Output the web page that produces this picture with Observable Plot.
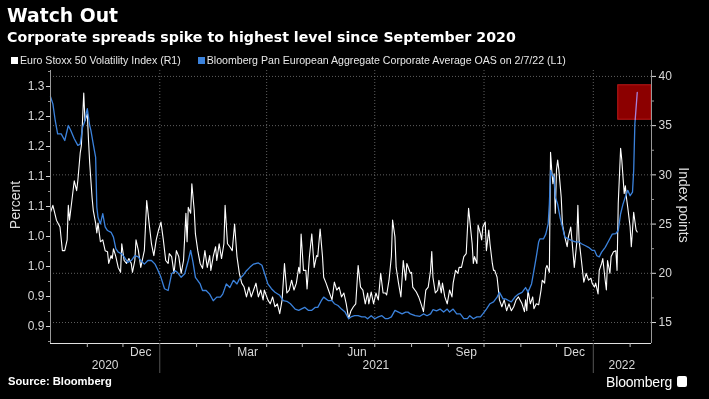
<!DOCTYPE html>
<html><head><meta charset="utf-8">
<script src="https://cdn.jsdelivr.net/npm/d3@7"></script>
<script src="https://cdn.jsdelivr.net/npm/@observablehq/plot@0.6"></script>
<style>
html,body{margin:0;padding:0;background:#000;}
#wrap{position:relative;width:709px;height:399px;background:#000;overflow:hidden;color:#fff;font-family:"Liberation Sans",Arial,sans-serif;}
#title{position:absolute;left:7px;top:5px;font:bold 18.8px "DejaVu Sans";line-height:22px;white-space:nowrap;}
#subtitle{position:absolute;left:7px;top:28px;font:bold 14.2px "DejaVu Sans";line-height:18px;white-space:nowrap;}
#legend{position:absolute;left:11px;top:54px;font:10.6px "Liberation Sans";color:#e8e8e8;white-space:nowrap;line-height:12px;}
#legend .sw{display:inline-block;width:7px;height:7px;margin-right:2px;vertical-align:0px;}
#legend .item{margin-right:17px;}
#chart{position:absolute;left:0;top:60px;}
#ylab{position:absolute;left:15px;top:205px;transform:translate(-50%,-50%) rotate(-90deg);font:14px "Liberation Sans";color:#ddd;white-space:nowrap;}
#y2lab{position:absolute;left:684px;top:205px;transform:translate(-50%,-50%) rotate(90deg);font:14px "Liberation Sans";color:#ddd;white-space:nowrap;}
#source{position:absolute;left:8px;top:375px;font:bold 11.2px "Liberation Sans";line-height:13px;color:#fff;}
#logo{position:absolute;right:37px;top:375px;font:14px "Liberation Sans";line-height:14px;color:#fff;letter-spacing:-0.2px;}
#icon{position:absolute;left:677px;top:376px;width:10px;height:11px;background:#fff;border-radius:2px;}
</style></head>
<body><div id="wrap">
<div id="title">Watch Out</div>
<div id="subtitle">Corporate spreads spike to highest level since September 2020</div>
<div id="legend"></div>
<div id="chart"></div>
<div id="ylab">Percent</div>
<div id="y2lab">Index points</div>
<div id="source">Source: Bloomberg</div>
<div id="logo">Bloomberg</div>
<div id="icon"></div>
</div>
<script>
// ---- series names ----
const seriesNames = ["Euro Stoxx 50 Volatility Index (R1)", "Bloomberg Pan European Aggregate Corporate Average OAS on 2/7/22 (L1)"];
const seriesColors = ["#ffffff", "#3b82dc"];

// ---- Euro Stoxx 50 Volatility Index (right axis, index points) ----
const vstoxx = [["2020-10-01",26.2],["2020-10-03",26.9],["2020-10-06",25.4],["2020-10-09",24.7],["2020-10-11",22.3],["2020-10-13",22.3],["2020-10-15",23.4],["2020-10-16",26.9],["2020-10-17",25.4],["2020-10-19",27.4],["2020-10-21",29.4],["2020-10-23",28.4],["2020-10-24",29.4],["2020-10-26",32.2],["2020-10-27",33.0],["2020-10-29",38.3],["2020-10-30",35.5],["2020-11-01",36.2],["2020-11-02",33.5],["2020-11-03",31.2],["2020-11-05",27.7],["2020-11-06",26.4],["2020-11-08",25.1],["2020-11-09",24.1],["2020-11-10",25.1],["2020-11-12",23.2],["2020-11-14",23.4],["2020-11-16",22.3],["2020-11-18",22.2],["2020-11-19",21.0],["2020-11-21",21.8],["2020-11-22",21.5],["2020-11-23",22.5],["2020-11-25",21.7],["2020-11-27",20.6],["2020-11-29",20.1],["2020-11-30",23.0],["2020-12-02",21.3],["2020-12-04",21.0],["2020-12-06",21.5],["2020-12-08",21.0],["2020-12-09",20.1],["2020-12-11",21.3],["2020-12-12",23.4],["2020-12-14",22.3],["2020-12-16",20.6],["2020-12-19",22.3],["2020-12-21",27.4],["2020-12-23",25.1],["2020-12-25",23.0],["2020-12-27",21.8],["2020-12-29",23.4],["2020-12-31",24.4],["2021-01-02",25.2],["2021-01-04",23.4],["2021-01-06",21.3],["2021-01-08",21.0],["2021-01-09",22.0],["2021-01-11",21.7],["2021-01-13",20.0],["2021-01-15",22.3],["2021-01-17",21.7],["2021-01-19",20.0],["2021-01-21",21.3],["2021-01-23",26.1],["2021-01-24",23.2],["2021-01-25",26.7],["2021-01-27",26.1],["2021-01-28",29.1],["2021-01-30",26.4],["2021-01-31",24.0],["2021-02-02",22.3],["2021-02-04",21.0],["2021-02-06",20.5],["2021-02-08",22.3],["2021-02-10",20.6],["2021-02-12",21.8],["2021-02-13",20.3],["2021-02-15",21.7],["2021-02-17",22.7],["2021-02-18",21.3],["2021-02-20",23.0],["2021-02-22",21.5],["2021-02-24",23.0],["2021-02-25",26.9],["2021-02-27",23.0],["2021-03-01",22.7],["2021-03-03",22.3],["2021-03-05",25.0],["2021-03-07",21.7],["2021-03-09",20.0],["2021-03-11",19.0],["2021-03-13",18.6],["2021-03-15",17.6],["2021-03-17",18.6],["2021-03-19",17.6],["2021-03-21",18.3],["2021-03-23",19.0],["2021-03-25",17.6],["2021-03-27",18.3],["2021-03-29",17.3],["2021-03-30",18.3],["2021-04-02",17.3],["2021-04-04",16.9],["2021-04-06",17.6],["2021-04-08",16.6],["2021-04-10",16.9],["2021-04-12",15.9],["2021-04-14",17.3],["2021-04-16",21.0],["2021-04-18",18.0],["2021-04-20",18.3],["2021-04-22",19.3],["2021-04-24",18.3],["2021-04-26",19.0],["2021-04-28",20.6],["2021-04-29",20.0],["2021-04-30",24.0],["2021-05-02",20.3],["2021-05-04",20.3],["2021-05-05",18.4],["2021-05-07",21.7],["2021-05-09",24.0],["2021-05-11",20.6],["2021-05-13",21.8],["2021-05-14",21.7],["2021-05-16",24.5],["2021-05-18",21.7],["2021-05-19",19.6],["2021-05-21",19.0],["2021-05-23",18.3],["2021-05-26",17.3],["2021-05-28",19.1],["2021-05-30",18.3],["2021-06-01",18.6],["2021-06-03",17.6],["2021-06-05",18.0],["2021-06-07",16.9],["2021-06-09",15.4],["2021-06-11",16.2],["2021-06-13",16.6],["2021-06-15",16.9],["2021-06-17",20.8],["2021-06-19",18.6],["2021-06-21",18.3],["2021-06-23",16.9],["2021-06-25",18.0],["2021-06-26",16.9],["2021-06-28",18.1],["2021-06-30",16.9],["2021-07-02",18.0],["2021-07-04",17.3],["2021-07-06",20.0],["2021-07-08",18.0],["2021-07-10",18.0],["2021-07-11",17.8],["2021-07-13",19.3],["2021-07-15",21.7],["2021-07-16",25.4],["2021-07-18",23.7],["2021-07-19",20.6],["2021-07-21",19.0],["2021-07-23",17.6],["2021-07-25",21.3],["2021-07-27",19.3],["2021-07-28",21.0],["2021-07-31",20.0],["2021-08-01",20.1],["2021-08-02",18.6],["2021-08-05",18.1],["2021-08-07",17.6],["2021-08-09",16.9],["2021-08-11",16.1],["2021-08-13",18.3],["2021-08-15",18.6],["2021-08-17",20.3],["2021-08-18",22.2],["2021-08-19",19.6],["2021-08-21",18.0],["2021-08-23",18.3],["2021-08-24",19.3],["2021-08-26",18.0],["2021-08-27",19.0],["2021-08-29",17.6],["2021-08-31",16.9],["2021-09-02",18.3],["2021-09-04",17.6],["2021-09-05",19.0],["2021-09-07",20.3],["2021-09-09",20.0],["2021-09-10",20.6],["2021-09-12",20.6],["2021-09-14",21.7],["2021-09-16",22.0],["2021-09-17",24.4],["2021-09-18",26.6],["2021-09-19",25.4],["2021-09-21",23.0],["2021-09-22",21.0],["2021-09-23",21.7],["2021-09-25",21.0],["2021-09-26",24.9],["2021-09-28",24.0],["2021-09-29",23.4],["2021-09-30",24.7],["2021-10-02",25.2],["2021-10-03",22.3],["2021-10-05",24.4],["2021-10-06",23.0],["2021-10-08",21.0],["2021-10-09",20.3],["2021-10-10",20.3],["2021-10-12",19.6],["2021-10-14",17.3],["2021-10-16",16.6],["2021-10-18",17.3],["2021-10-20",16.2],["2021-10-22",16.9],["2021-10-24",16.2],["2021-10-26",16.6],["2021-10-28",17.3],["2021-10-30",17.6],["2021-11-02",16.9],["2021-11-04",16.1],["2021-11-05",17.3],["2021-11-06",16.2],["2021-11-07",18.3],["2021-11-09",16.9],["2021-11-11",17.6],["2021-11-12",16.4],["2021-11-14",16.9],["2021-11-16",16.8],["2021-11-18",18.3],["2021-11-19",19.3],["2021-11-21",19.0],["2021-11-22",20.5],["2021-11-23",20.8],["2021-11-25",20.1],["2021-11-26",32.3],["2021-11-27",30.5],["2021-11-28",29.1],["2021-11-29",30.1],["2021-11-30",26.1],["2021-12-01",30.5],["2021-12-02",31.5],["2021-12-03",30.5],["2021-12-05",27.7],["2021-12-06",25.0],["2021-12-08",23.7],["2021-12-10",22.7],["2021-12-11",23.7],["2021-12-13",24.7],["2021-12-14",23.4],["2021-12-16",20.6],["2021-12-18",23.0],["2021-12-19",26.9],["2021-12-20",23.4],["2021-12-22",21.3],["2021-12-24",19.1],["2021-12-26",20.0],["2021-12-28",19.3],["2021-12-30",19.5],["2021-12-31",19.0],["2022-01-02",18.6],["2022-01-03",19.0],["2022-01-05",17.9],["2022-01-06",20.3],["2022-01-08",21.0],["2022-01-09",21.5],["2022-01-11",19.3],["2022-01-12",18.3],["2022-01-13",21.3],["2022-01-15",20.0],["2022-01-16",21.7],["2022-01-18",22.2],["2022-01-20",22.3],["2022-01-21",20.3],["2022-01-22",27.1],["2022-01-24",32.7],["2022-01-25",31.5],["2022-01-27",28.1],["2022-01-28",28.9],["2022-01-29",27.6],["2022-01-30",26.7],["2022-02-01",24.7],["2022-02-02",22.7],["2022-02-03",24.4],["2022-02-04",26.2],["2022-02-06",24.4],["2022-02-07",24.2]];

// ---- Bloomberg Pan European Aggregate Corporate OAS (left axis, percent) ----
const oas = [["2020-10-01",1.283],["2020-10-03",1.271],["2020-10-05",1.243],["2020-10-07",1.221],["2020-10-10",1.221],["2020-10-13",1.210],["2020-10-16",1.235],["2020-10-18",1.227],["2020-10-21",1.213],["2020-10-24",1.202],["2020-10-26",1.204],["2020-10-28",1.232],["2020-10-30",1.243],["2020-10-31",1.255],["2020-11-01",1.263],["2020-11-03",1.235],["2020-11-04",1.227],["2020-11-06",1.204],["2020-11-08",1.182],["2020-11-09",1.099],["2020-11-10",1.082],["2020-11-12",1.071],["2020-11-14",1.088],["2020-11-16",1.066],["2020-11-18",1.060],["2020-11-21",1.057],["2020-11-23",1.049],["2020-11-25",1.030],["2020-11-27",1.024],["2020-11-30",1.021],["2020-12-02",1.016],["2020-12-05",1.007],["2020-12-08",1.010],["2020-12-11",1.018],["2020-12-14",1.016],["2020-12-16",1.010],["2020-12-19",1.004],["2020-12-22",1.010],["2020-12-25",1.010],["2020-12-28",1.004],["2020-12-30",0.996],["2021-01-02",0.982],["2021-01-05",0.963],["2021-01-08",0.960],["2021-01-11",0.988],["2021-01-14",0.993],["2021-01-16",0.990],["2021-01-19",0.982],["2021-01-22",0.988],["2021-01-25",1.010],["2021-01-27",1.027],["2021-01-29",1.007],["2021-01-31",0.982],["2021-02-04",0.971],["2021-02-06",0.960],["2021-02-09",0.960],["2021-02-12",0.954],["2021-02-15",0.943],["2021-02-18",0.949],["2021-02-21",0.949],["2021-02-23",0.954],["2021-02-26",0.971],["2021-03-01",0.965],["2021-03-04",0.977],["2021-03-07",0.971],["2021-03-09",0.979],["2021-03-12",0.985],["2021-03-15",0.993],["2021-03-18",0.999],["2021-03-21",1.004],["2021-03-25",1.006],["2021-03-28",1.002],["2021-03-30",0.990],["2021-04-02",0.971],["2021-04-05",0.963],["2021-04-08",0.957],["2021-04-12",0.952],["2021-04-15",0.943],["2021-04-18",0.942],["2021-04-21",0.938],["2021-04-25",0.929],["2021-04-28",0.927],["2021-04-30",0.929],["2021-05-03",0.932],["2021-05-06",0.927],["2021-05-09",0.927],["2021-05-12",0.932],["2021-05-14",0.932],["2021-05-17",0.943],["2021-05-19",0.949],["2021-05-23",0.943],["2021-05-26",0.943],["2021-05-28",0.938],["2021-05-31",0.935],["2021-06-03",0.929],["2021-06-06",0.924],["2021-06-09",0.913],["2021-06-11",0.916],["2021-06-14",0.918],["2021-06-17",0.918],["2021-06-20",0.916],["2021-06-23",0.916],["2021-06-25",0.913],["2021-06-28",0.918],["2021-07-01",0.913],["2021-07-04",0.916],["2021-07-07",0.918],["2021-07-10",0.913],["2021-07-12",0.913],["2021-07-15",0.916],["2021-07-18",0.927],["2021-07-21",0.924],["2021-07-24",0.921],["2021-07-27",0.924],["2021-07-29",0.924],["2021-07-31",0.921],["2021-08-04",0.918],["2021-08-08",0.917],["2021-08-11",0.921],["2021-08-14",0.918],["2021-08-17",0.921],["2021-08-19",0.928],["2021-08-22",0.926],["2021-08-25",0.929],["2021-08-28",0.924],["2021-08-31",0.929],["2021-09-02",0.924],["2021-09-05",0.929],["2021-09-08",0.921],["2021-09-11",0.921],["2021-09-14",0.913],["2021-09-17",0.913],["2021-09-19",0.918],["2021-09-22",0.913],["2021-09-25",0.916],["2021-09-28",0.916],["2021-09-30",0.921],["2021-10-03",0.929],["2021-10-06",0.938],["2021-10-09",0.941],["2021-10-12",0.949],["2021-10-14",0.957],["2021-10-17",0.946],["2021-10-19",0.946],["2021-10-22",0.943],["2021-10-24",0.941],["2021-10-27",0.949],["2021-10-30",0.954],["2021-11-02",0.957],["2021-11-05",0.965],["2021-11-07",0.957],["2021-11-10",0.971],["2021-11-12",0.993],["2021-11-14",1.016],["2021-11-16",1.041],["2021-11-17",1.046],["2021-11-20",1.046],["2021-11-22",1.054],["2021-11-24",1.071],["2021-11-25",1.104],["2021-11-26",1.160],["2021-11-27",1.154],["2021-11-29",1.149],["2021-11-30",1.116],["2021-12-02",1.104],["2021-12-04",1.082],["2021-12-06",1.066],["2021-12-08",1.049],["2021-12-11",1.046],["2021-12-14",1.043],["2021-12-17",1.041],["2021-12-20",1.041],["2021-12-22",1.038],["2021-12-25",1.035],["2021-12-28",1.032],["2021-12-31",1.027],["2022-01-02",1.027],["2022-01-04",1.018],["2022-01-06",1.016],["2022-01-08",1.024],["2022-01-11",1.032],["2022-01-14",1.043],["2022-01-17",1.054],["2022-01-20",1.055],["2022-01-22",1.060],["2022-01-24",1.088],["2022-01-26",1.104],["2022-01-28",1.116],["2022-01-30",1.127],["2022-02-01",1.118],["2022-02-03",1.124],["2022-02-04",1.160],["2022-02-05",1.238],["2022-02-07",1.290]];

// ---- axes ----
const xDomain = ["2020-10-01", "2022-02-19"];
const leftDomain = [0.8717, 1.3267];
const rightDomain = [12.87, 40.6];
const leftTicks = [0.90, 0.95, 1.00, 1.05, 1.10, 1.15, 1.20, 1.25, 1.30];
const leftTickLabels = ["0.9", "0.9", "1.0", "1.0", "1.1", "1.1", "1.2", "1.2", "1.3"];
const leftMinorTicks = [0.875, 0.925, 0.975, 1.025, 1.075, 1.125, 1.175, 1.225, 1.275, 1.325];
const rightTicks = [15, 20, 25, 30, 35, 40];
const rightMinorTicks = [17.5, 22.5, 27.5, 32.5, 37.5];
const monthStarts = ["2020-11-01","2020-12-01","2021-02-01","2021-03-01","2021-04-01","2021-05-01","2021-06-01","2021-07-01","2021-08-01","2021-09-01","2021-10-01","2021-11-01","2021-12-01","2022-02-01"];
const yearStarts = ["2021-01-01", "2022-01-01"];
const gridDates = ["2021-01-01", "2021-04-01", "2021-07-01", "2021-10-01", "2022-01-01"];
const monthLabels = [["2020-12-16","Dec"],["2021-03-16","Mar"],["2021-06-16","Jun"],["2021-09-16","Sep"],["2021-12-16","Dec"]];
const yearLabels = [["2020-11-16","2020"],["2021-07-02","2021"],["2022-01-25","2022"]];
// highlighted region (right-axis units)
const highlight = [{x1: "2022-01-22", x2: "2022-02-19", y1: 35.6, y2: 39.1}];

// ---- build ----
const D = s => new Date(s + "T00:00:00Z");
// map right-axis values onto the left-axis scale (aligned domains)
const toLeft = v => leftDomain[0] + (v - rightDomain[0]) * (leftDomain[1] - leftDomain[0]) / (rightDomain[1] - rightDomain[0]);
const toRight = l => rightDomain[0] + (l - leftDomain[0]) * (rightDomain[1] - rightDomain[0]) / (leftDomain[1] - leftDomain[0]);

// legend
const legend = document.getElementById("legend");
seriesNames.forEach((n, i) => {
  const s = document.createElement("span");
  s.className = "item";
  s.innerHTML = `<span class="sw" style="background:${seriesColors[i]}"></span>${n}`;
  legend.appendChild(s);
});

const axisColor = "#d8d8d8";
const chart = Plot.plot({
  width: 709,
  height: 315,
  marginLeft: 50,
  marginRight: 58,
  marginTop: 10,
  marginBottom: 32,
  style: {background: "transparent", color: axisColor, fontFamily: "'Liberation Sans', Arial, sans-serif", fontSize: "12px"},
  x: {type: "utc", domain: xDomain.map(D)},
  y: {domain: leftDomain},
  marks: [
    // gridlines
    Plot.ruleY(rightTicks, {y: d => toLeft(d), stroke: "#777", strokeDasharray: "1,2", strokeWidth: 0.8}),
    Plot.ruleX(gridDates, {x: d => D(d), stroke: "#777", strokeDasharray: "1,2", strokeWidth: 0.8}),
    // series
    Plot.line(vstoxx, {x: d => D(d[0]), y: d => toLeft(d[1]), stroke: seriesColors[0], strokeWidth: 1.1}),
    Plot.line(oas, {x: d => D(d[0]), y: d => d[1], stroke: seriesColors[1], strokeWidth: 1.3}),
    // highlight box
    Plot.rect(highlight, {x1: d => D(d.x1), x2: d => D(d.x2), y1: d => toLeft(d.y1), y2: d => toLeft(d.y2), fill: "#8c0000", stroke: "#c01818", strokeWidth: 1, mixBlendMode: "screen"}),
    // axis lines
    Plot.ruleX([D(xDomain[0])], {stroke: "#999"}),
    Plot.ruleX([D(xDomain[1])], {stroke: "#999"}),
    Plot.ruleY([leftDomain[0]], {stroke: "#e0e0e0", strokeWidth: 1.2}),
    // left axis
    Plot.axisY(leftTicks, {anchor: "left", tickSize: 4, tickPadding: 2, label: null, color: axisColor, tickFormat: d => leftTickLabels[leftTicks.indexOf(d)]}),
    Plot.axisY(leftMinorTicks, {anchor: "left", tickSize: 2, label: null, color: "#999", tickFormat: () => ""}),
    // right axis
    Plot.axisY(rightTicks.map(toLeft), {anchor: "right", tickSize: 4, tickPadding: 3, label: null, color: axisColor, tickFormat: d => String(Math.round(toRight(d)))}),
    Plot.axisY(rightMinorTicks.map(toLeft), {anchor: "right", tickSize: 2, label: null, color: "#999", tickFormat: () => ""}),
    // x axis ticks
    Plot.axisX(monthStarts.map(D), {anchor: "bottom", tickSize: 4, label: null, color: "#bbb", tickFormat: () => ""}),
    Plot.axisX(yearStarts.map(D), {anchor: "bottom", tickSize: 30, label: null, color: "#555", tickFormat: () => ""}),
    Plot.text(monthLabels, {x: d => D(d[0]), text: d => d[1], frameAnchor: "bottom", dy: 12, fill: axisColor, fontSize: 12}),
    Plot.text(yearLabels, {x: d => D(d[0]), text: d => d[1], frameAnchor: "bottom", dy: 25, fill: axisColor, fontSize: 12})
  ]
});
document.getElementById("chart").appendChild(chart);
</script>
</body></html>
